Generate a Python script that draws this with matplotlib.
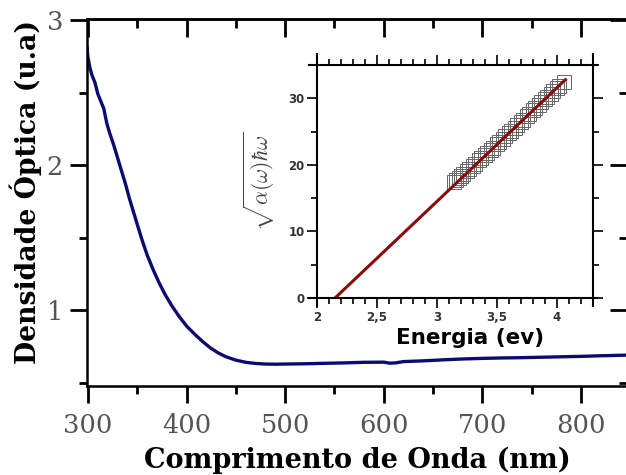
import matplotlib
matplotlib.use("Agg")
import matplotlib.pyplot as plt
from matplotlib.ticker import MultipleLocator

plt.rcParams["mathtext.fontset"] = "cm"

# Absorption spectrum (optical density vs wavelength)
wavelength = [299, 300, 302, 304, 307, 310, 313, 316, 319, 322, 326, 330, 334, 338,
              342, 346, 350, 355, 360, 366, 372, 378, 385, 392, 400, 408, 416, 424,
              432, 440, 450, 460, 470, 480, 490, 500, 520, 540, 560, 580, 600, 606,
              612, 620, 640, 660, 680, 700, 720, 740, 760, 780, 800, 820, 850]
density = [2.81, 2.74, 2.67, 2.62, 2.57, 2.49, 2.44, 2.39, 2.29, 2.22, 2.14, 2.05, 1.96, 1.87,
           1.77, 1.68, 1.59, 1.48, 1.38, 1.28, 1.19, 1.11, 1.03, 0.96, 0.89, 0.835, 0.785, 0.74,
           0.705, 0.678, 0.655, 0.64, 0.632, 0.628, 0.627, 0.628, 0.630, 0.633, 0.636, 0.640, 0.641, 0.634,
           0.636, 0.645, 0.650, 0.657, 0.663, 0.667, 0.670, 0.672, 0.675, 0.678, 0.681, 0.685, 0.690]

# Tauc plot inset
energy = [3.14, 3.16, 3.18, 3.20, 3.22, 3.25, 3.27, 3.30, 3.32, 3.35, 3.37, 3.40, 3.42,
          3.45, 3.47, 3.50, 3.52, 3.55, 3.57, 3.60, 3.62, 3.65, 3.67, 3.70, 3.72, 3.75,
          3.77, 3.80, 3.82, 3.85, 3.87, 3.90, 3.92, 3.95, 3.97, 4.00, 4.02, 4.06]
tauc = [17.4, 17.7, 18.0, 18.3, 18.6, 19.1, 19.4, 19.9, 20.2, 20.7, 21.0, 21.5, 21.8,
        22.3, 22.6, 23.1, 23.4, 23.9, 24.3, 24.8, 25.1, 25.6, 26.0, 26.5, 26.8, 27.3,
        27.7, 28.2, 28.5, 29.0, 29.4, 29.9, 30.2, 30.7, 31.1, 31.5, 31.8, 32.4]
fit_energy = [2.15, 4.07]
fit_tauc = [0.0, 32.8]

x_ticks = [300, 400, 500, 600, 700, 800]
y_ticks = [1, 2, 3]
inset_xticks = [2, 2.5, 3, 3.5, 4]
inset_xlabels = ["2", "2,5", "3", "3,5", "4"]
inset_yticks = [0, 10, 20, 30]

fig = plt.figure(figsize=(6.26, 4.75), dpi=100)
ax = fig.add_axes([0.1382, 0.1884, 0.865, 0.7716])
ax.plot(wavelength, density, color="#0b0b72", lw=2.4)
ax.set_xlim(298.5, 847.7)
ax.set_ylim(0.48, 3.007)

ax.set_xticks(x_ticks)
ax.set_yticks(y_ticks)
ax.xaxis.set_minor_locator(MultipleLocator(50))
ax.yaxis.set_minor_locator(MultipleLocator(0.5))
for s in ax.spines.values():
    s.set_linewidth(1.8)
ax.tick_params(which="major", direction="out", length=12, width=2, top=False, right=False,
               labelsize=18.5, labelcolor="#555555", pad=5)
ax.tick_params(which="minor", direction="out", length=6, width=2, top=False, right=False)
ax.tick_params(axis="x", which="major", pad=8)
for lab in ax.get_xticklabels() + ax.get_yticklabels():
    lab.set_family("DejaVu Serif")

# inward ticks on top and right
top = ax.secondary_xaxis("top")
top.set_xticks(x_ticks)
top.xaxis.set_minor_locator(MultipleLocator(50))
top.tick_params(which="major", direction="in", length=13, width=2, labeltop=False)
top.tick_params(which="minor", direction="in", length=6.5, width=2)
top.spines["top"].set_linewidth(1.8)
right = ax.secondary_yaxis("right")
right.set_yticks(y_ticks)
right.yaxis.set_minor_locator(MultipleLocator(0.5))
right.tick_params(which="major", direction="in", length=13, width=2, labelright=False)
right.tick_params(which="minor", direction="in", length=6.5, width=2)

ax.set_xlabel("Comprimento de Onda (nm)", family="DejaVu Serif", fontweight="bold",
              fontsize=19.5, labelpad=6)
ax.set_ylabel("Densidade Óptica (u.a)", family="DejaVu Serif", fontweight="bold",
              fontsize=19.2)
ax.yaxis.set_label_coords(-0.082, 0.528)

# inset
ins = fig.add_axes([0.5064, 0.3726, 0.4409, 0.4905])
ins.plot(energy, tauc, ls="none", marker="s", ms=9.5, mfc="none", mec="#666666", mew=0.7)
ins.plot(fit_energy, fit_tauc, color="#880a0a", lw=2.2)
ins.set_xlim(2, 4.3)
ins.set_ylim(0, 35)
ins.set_xticks(inset_xticks)
ins.set_xticklabels(inset_xlabels)
ins.set_yticks(inset_yticks)
ins.xaxis.set_minor_locator(MultipleLocator(0.1))
ins.yaxis.set_minor_locator(MultipleLocator(5))
for s in ins.spines.values():
    s.set_linewidth(1.5)
# axis lines run a little past the corners
ins.spines["top"].set_bounds(1.93, 4.33)
ins.spines["bottom"].set_bounds(1.93, 4.33)
ins.spines["left"].set_bounds(-1.2, 36.7)
ins.spines["right"].set_bounds(-1.2, 36.7)
ins.tick_params(which="major", direction="out", length=7, width=1.2, top=True, right=True,
                labelsize=8.5, labelcolor="#333333", pad=2)
ins.tick_params(which="minor", direction="out", length=4, width=1.2, top=True, right=True)
for lab in ins.get_xticklabels() + ins.get_yticklabels():
    lab.set_fontweight("bold")
ins.set_xlabel("Energia (ev)", fontweight="bold", fontsize=15.5)
ins.xaxis.set_label_coords(0.554, -0.128)
ins.set_ylabel(r"$\sqrt{\alpha(\omega)\hbar\omega}$", fontsize=15.5, color="#444444")
ins.yaxis.set_label_coords(-0.145, 0.5)

fig.savefig("out.png", dpi=100)
